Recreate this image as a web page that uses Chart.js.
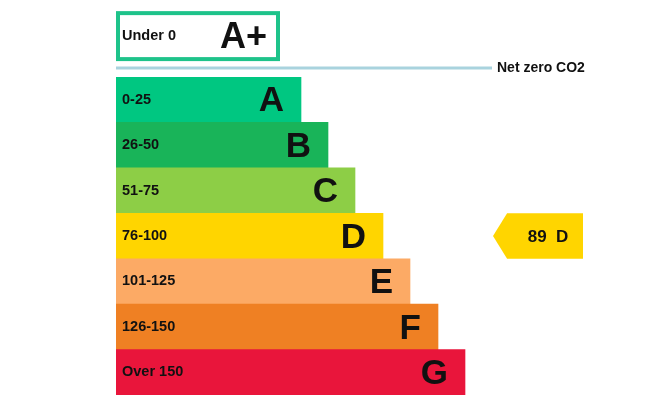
<!DOCTYPE html>
<html>
<head>
<meta charset="utf-8">
<script src="https://cdn.jsdelivr.net/npm/chart.js@4.4.0/dist/chart.umd.min.js"></script>
<style>
  html, body { margin: 0; padding: 0; background: #fff; }
  #wrap { width: 656px; height: 410px; position: relative; }
</style>
</head>
<body>
<div id="wrap"><canvas id="epc"></canvas></div>
<script>
// bands
const bandLetters = ['A', 'B', 'C', 'D', 'E', 'F', 'G'];
const bandRanges = ['0-25', '26-50', '51-75', '76-100', '101-125', '126-150', 'Over 150'];
const bandLengths = [185, 212, 239, 267, 294, 322, 349];
const bandColors = ['#00c781', '#19b459', '#8dce46', '#ffd500', '#fcaa65', '#ef8023', '#e9153b'];

// the A+ band above the net zero line
const topLetter = 'A+';
const topRange = 'Under 0';
const topLength = 164;
const topColor = '#1ec38a';

const netZeroText = 'Net zero CO2';
const netZeroLength = 376;

// current rating pointer
const currentScore = 89;
const currentBand = 'D';
const pointerStart = 377;
const pointerEnd = 467;

const FONT = '"Liberation Sans", Arial, sans-serif';

const epcPlugin = {
    id: 'epcLabels',
    afterDatasetsDraw: function(chart) {
        var ctx = chart.ctx;
        var xs = chart.scales.x;
        var ys = chart.scales.y;
        var area = chart.chartArea;
        var rowH = ys.getPixelForValue(1) - ys.getPixelForValue(0);
        var x0 = xs.getPixelForValue(0);

        ctx.save();
        // range text + letters on each bar
        bandLetters.forEach(function(letter, i) {
            var yc = ys.getPixelForValue(i);
            var xe = xs.getPixelForValue(bandLengths[i]);
            ctx.fillStyle = '#111';
            ctx.textBaseline = 'middle';
            ctx.textAlign = 'left';
            ctx.font = 'bold 14.5px ' + FONT;
            ctx.fillText(bandRanges[i], x0 + 6, yc);
            ctx.textAlign = 'right';
            ctx.font = 'bold 35px ' + FONT;
            ctx.fillText(letter, xe - 17, yc + 2);
        });

        // A+ box
        var boxTop = area.top - rowH * 1.45;
        var boxH = rowH * 1.1;
        var boxRight = xs.getPixelForValue(topLength);
        ctx.strokeStyle = topColor;
        ctx.lineWidth = 4;
        ctx.strokeRect(x0 + 2, boxTop + 2, boxRight - x0 - 4, boxH - 4);
        ctx.fillStyle = '#111';
        ctx.textAlign = 'left';
        ctx.font = 'bold 14.5px ' + FONT;
        ctx.fillText(topRange, x0 + 6, boxTop + boxH / 2);
        ctx.textAlign = 'right';
        ctx.font = 'bold 36px ' + FONT;
        ctx.fillText(topLetter, boxRight - 13, boxTop + boxH / 2 + 2);

        // net zero line
        var lineY = area.top - 9;
        var lineEnd = xs.getPixelForValue(netZeroLength);
        ctx.strokeStyle = '#a9d3de';
        ctx.lineWidth = 3;
        ctx.beginPath();
        ctx.moveTo(x0, lineY);
        ctx.lineTo(lineEnd, lineY);
        ctx.stroke();
        ctx.fillStyle = '#111';
        ctx.textAlign = 'left';
        ctx.font = 'bold 14px ' + FONT;
        ctx.fillText(netZeroText, lineEnd + 5, lineY);

        // pointer arrow
        var bi = bandLetters.indexOf(currentBand);
        var pyc = ys.getPixelForValue(bi);
        var top = pyc - rowH / 2, bot = pyc + rowH / 2;
        var px0 = xs.getPixelForValue(pointerStart);
        var px1 = xs.getPixelForValue(pointerEnd);
        var notch = rowH / 2 * 0.62;
        ctx.fillStyle = bandColors[bi];
        ctx.beginPath();
        ctx.moveTo(px0, pyc);
        ctx.lineTo(px0 + notch, top);
        ctx.lineTo(px1, top);
        ctx.lineTo(px1, bot);
        ctx.lineTo(px0 + notch, bot);
        ctx.closePath();
        ctx.fill();
        ctx.fillStyle = '#111';
        ctx.textAlign = 'center';
        ctx.font = 'bold 17px ' + FONT;
        ctx.fillText(currentScore + '  ' + currentBand, (px0 + notch + px1) / 2 + 3, pyc + 1);
        ctx.restore();
    }
};

new Chart(document.getElementById('epc'), {
    type: 'bar',
    data: {
        labels: bandLetters,
        datasets: [{
            label: 'EPC bands',
            data: bandLengths,
            backgroundColor: bandColors,
            borderWidth: 0,
            barPercentage: 1,
            categoryPercentage: 1
        }]
    },
    options: {
        indexAxis: 'y',
        responsive: true,
        maintainAspectRatio: false,
        animation: false,
        layout: { padding: { top: 77, bottom: 15, left: 116, right: 40 } },
        scales: {
            x: { display: false, min: 0, max: 500 },
            y: { display: false }
        },
        plugins: {
            legend: { display: false },
            tooltip: { enabled: false }
        }
    },
    plugins: [epcPlugin]
});
</script>
</body>
</html>
